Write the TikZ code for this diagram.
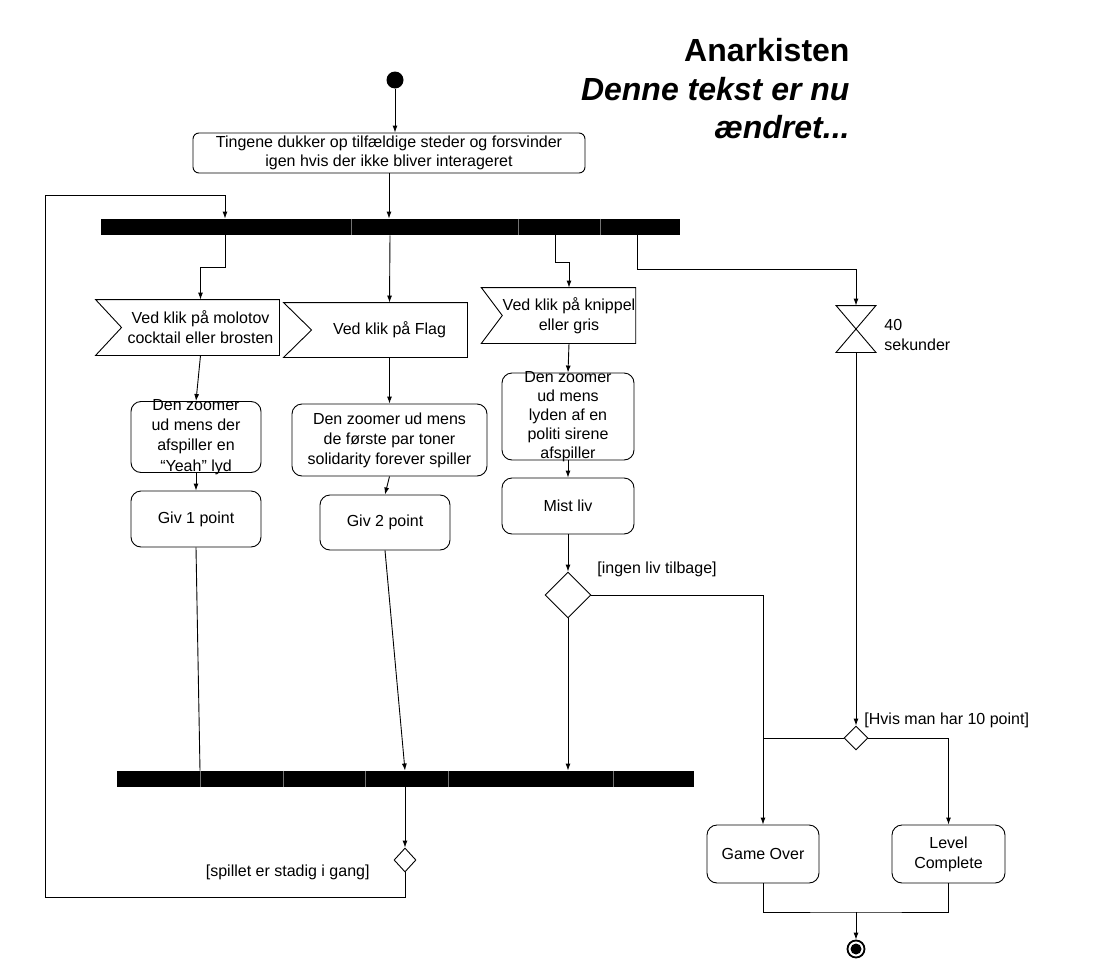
\documentclass[tikz,border=0pt]{standalone}
\usepackage{fontspec}
\setmainfont{Liberation Sans}
\usetikzlibrary{shapes.geometric,arrows.meta}

\begin{document}
\begin{tikzpicture}[x=1pt, y=-1pt, line width=0.9pt, inner sep=0pt,
		font=\fontsize{16}{20}\selectfont,
		actbox/.style={rectangle, draw, rounded corners=10pt, align=center},
		flagbox/.style={rectangle, align=center},
		barbox/.style={rectangle, fill=black, minimum height=16pt},
		decbox/.style={diamond, draw},
		arr/.style={-{Latex[length=7pt,width=5pt]}}]
	\useasboundingbox (0,0) rectangle (1120,980);

	\node[anchor=north east, align=right, font=\fontsize{32}{38.5}\selectfont\bfseries]
		(title) at (850,38) {Anarkisten\\\textit{Denne tekst er nu}\\\textit{ændret...}};

	\node[circle, fill, minimum size=17pt] (s0) at (395,80) {};
	\node[actbox, rounded corners=6pt, minimum width=392pt, minimum height=40pt,
		font=\fontsize{16}{19}\selectfont]
		(a0) at (389,153) {Tingene dukker op tilfældige steder og forsvinder\\igen hvis der ikke bliver interageret};
	\node[barbox, minimum width=579pt] (b1) at (390.5,227) {};
	\foreach \s in {351,518,600}
		\draw[black!55, line width=0.3pt] (\s,0 |- b1.north) -- (\s,0 |- b1.south);

	\node[flagbox, minimum width=157pt, minimum height=55pt]
		(f1) at (200.5,327.5) {Ved klik på molotov\\cocktail eller brosten};
	\node[flagbox, minimum width=155pt, minimum height=54pt]
		(f2) at (389.5,330) {Ved klik på Flag};
	\node[flagbox, minimum width=128pt, minimum height=55pt]
		(f3) at (569,315.5) {Ved klik på knippel\\eller gris};
	\foreach \f/\d in {f1/26, f2/28, f3/21}
		\draw ([xshift=-\d pt]\f.north west) -- (\f.north east) -- (\f.south east)
			-- ([xshift=-\d pt]\f.south west) -- (\f.west) -- cycle;
	\node[minimum width=39pt, minimum height=46pt] (h1) at (856,329) {};
	\draw (h1.north west) -- (h1.north east) -- (h1.south west) -- (h1.south east) -- cycle;
	\node[anchor=west, align=left] (l2) at (884,335) {40\\sekunder};

	\node[actbox, inner ysep=-3pt, minimum width=130pt, minimum height=71pt,
		font=\fontsize{16}{20.3}\selectfont]
		(a1) at (196,437) {Den zoomer\\ud mens der\\afspiller en\\“Yeah” lyd};
	\node[actbox, minimum width=130pt, minimum height=56pt] (g1) at (196,519) {Giv 1 point};
	\node[actbox, minimum width=195pt, minimum height=72pt]
		(a2) at (389.5,440) {Den zoomer ud mens\\de første par toner\\solidarity forever spiller};
	\node[actbox, minimum width=130pt, minimum height=55pt] (g2) at (385,522.5) {Giv 2 point};
	\node[actbox, inner ysep=-3pt, minimum width=132pt, minimum height=87pt,
		font=\fontsize{16}{19}\selectfont]
		(a3) at (568,416.5) {Den zoomer\\ud mens\\lyden af en\\politi sirene\\afspiller};
	\node[actbox, minimum width=132pt, minimum height=56pt] (m3) at (568,506) {Mist liv};

	\node[decbox, minimum width=46pt, minimum height=46pt] (d1) at (568,595) {};
	\node[anchor=west] (l1) at (597,569) {[ingen liv tilbage]};
	\node[decbox, minimum width=24pt, minimum height=24pt] (d2) at (856,738) {};
	\node[anchor=west] (l3) at (864,720) {[Hvis man har 10 point]};

	\node[barbox, minimum width=577pt] (b2) at (405.5,779) {};
	\foreach \s in {200,283,365,448,613}
		\draw[black!55, line width=0.3pt] (\s,0 |- b2.north) -- (\s,0 |- b2.south);
	\node[decbox, minimum width=22pt, minimum height=24pt] (d3) at (405,860) {};
	\node[anchor=east] (l4) at (370,872) {[spillet er stadig i gang]};

	\node[actbox, minimum width=112pt, minimum height=58pt] (go) at (763,854) {Game Over};
	\node[actbox, minimum width=113pt, minimum height=58pt] (lc) at (948.5,854) {Level\\Complete};
	\coordinate (mg) at (856,912);
	\node[circle, draw, line width=1.8pt, minimum size=17pt,
		path picture={\fill (path picture bounding box.center) circle (5.5pt);}] (e0) at (856,949) {};

	\draw[arr] (s0) -- (s0 |- a0.north);
	\draw[arr] (a0.south) -- (a0.south |- b1.north);
	\draw[arr] (d3.south) |- (45,897) |- (225,195) -- (225,0 |- b1.north);
	\draw[arr] (225,0 |- b1.south) -- (225,267) -| (f1.north);
	\draw[arr] (390,0 |- b1.south) -- (f2.north);
	\draw[arr] (555,0 |- b1.south) -- (555,262) -| (f3.north);
	\draw[arr] (637,0 |- b1.south) -- (637,269) -| (h1.north);
	\draw[arr] (f1.south) -- (a1.north);
	\draw[arr] (a1) -- (g1);
	\draw (g1.south) -- (200,0 |- b2.north);
	\draw[arr] (f2.south) -- (a2.north);
	\draw[arr] (a2.south) -- (g2.north);
	\draw[arr] (g2.south) -- (405,0 |- b2.north);
	\draw[arr] (f3.south) -- (a3.north);
	\draw[arr] (a3) -- (m3);
	\draw[arr] (m3) -- (d1);
	\draw[arr] (d1.south) -- (d1.south |- b2.north);
	\draw[arr] (d1.east) -| (go.north);
	\draw[arr] (h1.south) -- (d2.north);
	\draw (d2.west) -- (d2.west -| go.north);
	\draw[arr] (d2.east) -| (lc.north);
	\draw[arr] (405,0 |- b2.south) -- (d3.north);
	\draw (go.south) |- (mg) -| (lc.south);
	\draw[arr] (mg) -- (e0);
\end{tikzpicture}
\end{document}
